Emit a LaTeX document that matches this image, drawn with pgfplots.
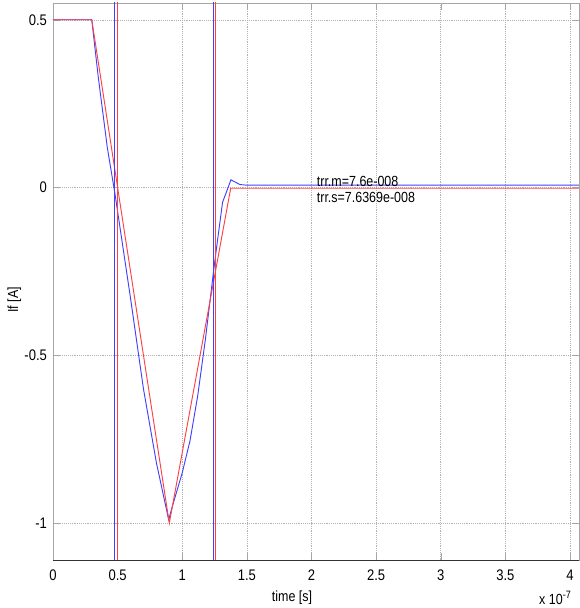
\documentclass[border=0pt]{standalone}
\usepackage{pgfplots}
\pgfplotsset{compat=1.18}
\usepackage{fontspec}
\setmainfont{Liberation Sans}[FakeStretch=0.85]
\definecolor{mblue}{rgb}{0.25,0.25,1}
\definecolor{mred}{rgb}{1,0.25,0.25}
\begin{document}
\begin{tikzpicture}
\path[use as bounding box] (-39.75pt,-36pt) rectangle (395.25pt,420pt);
\begin{axis}[
  scale only axis,
  width=394.5pt, height=417.75pt,
  anchor=south west, at={(0,0)},
  xmin=0, xmax=4.07, ymin=-1.11, ymax=0.55,
  xtick={0,0.5,1,1.5,2,2.5,3,3.5,4},
  ytick={-1,-0.5,0,0.5},
  xticklabels={0,0.5,1,1.5,2,2.5,3,3.5,4},
  yticklabels={-1,-0.5,0,0.5},
  grid=major,
  grid style={densely dotted, gray!60},
  axis line style={gray!70},
  tick style={gray!70},
  tick align=inside,
  major tick length=5pt,
  /pgf/number format/assume math mode=true,
  tick label style={font=\fontsize{11.5}{13}\selectfont},
  xticklabel style={yshift=-4pt},
  yticklabel style={xshift=-1pt},
  clip=true,
]
\addplot[mblue, line width=0.7pt] coordinates {
 (0,0.5) (0.3,0.5) (0.35,0.33) (0.42,0.12) (0.48,-0.02) (0.6,-0.33)
 (0.7,-0.6) (0.8,-0.82) (0.895,-0.99) (0.92,-0.955) (1.0,-0.85)
 (1.06,-0.755) (1.12,-0.62) (1.18,-0.45) (1.24,-0.257) (1.266,-0.178)
 (1.312,-0.044) (1.377,0.023) (1.446,0.009) (1.5,0.007) (4.07,0.007)};
\addplot[mred, line width=0.7pt] coordinates {
 (0,0.5) (0.3,0.5) (0.9,-1) (1.375,-0.002) (4.07,-0.002)};
\addplot[mblue, line width=0.75pt] coordinates {(0.4759,-1.2) (0.4759,0.7)};
\addplot[mblue, line width=0.75pt] coordinates {(1.2419,-1.2) (1.2419,0.7)};
\addplot[mred, line width=0.75pt] coordinates {(0.4991,-1.2) (0.4991,0.7)};
\addplot[mred, line width=0.75pt] coordinates {(1.2574,-1.2) (1.2574,0.7)};
\node[anchor=west, font=\fontsize{11}{13}\selectfont, inner sep=0pt] at (axis cs:2.04,0.017) {trr.m=7.6e-008};
\node[anchor=west, font=\fontsize{11}{13}\selectfont, inner sep=0pt] at (axis cs:2.04,-0.031) {trr.s=7.6369e-008};
\end{axis}
\draw[black!80, line width=0.6pt] (0,0) -- (394.5pt,0);
\node[font=\fontsize{11}{13}\selectfont] at (179.25pt,-28.5pt) {time [s]};
\node[font=\fontsize{11}{13}\selectfont] at (376.5pt,-28.5pt) {x 10\raisebox{0.8ex}{\fontsize{8}{9}\selectfont -7}};
\node[font=\fontsize{11}{13}\selectfont, rotate=90] at (-29pt,195pt) {If [A]};
\end{tikzpicture}
\end{document}
